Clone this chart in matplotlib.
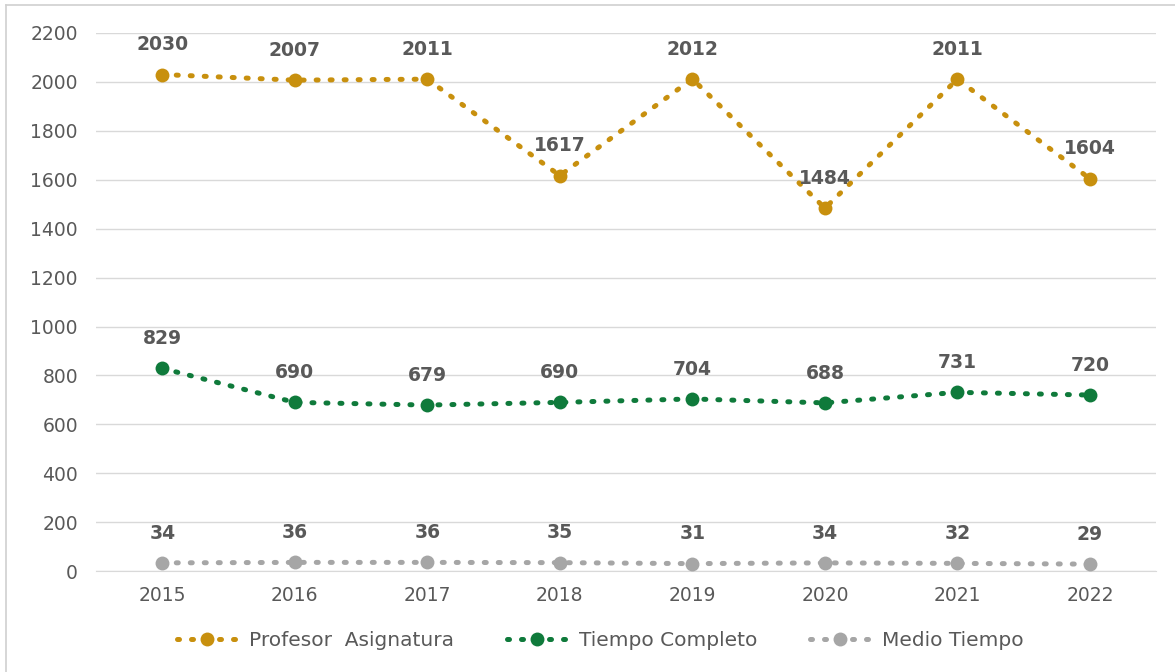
import matplotlib.pyplot as plt
from matplotlib.lines import Line2D

plt.rcParams['font.family'] = ['DejaVu Sans']

years = ["2015", "2016", "2017", "2018", "2019", "2020", "2021", "2022"]
profesor_asignatura = [2030, 2007, 2011, 1617, 2012, 1484, 2011, 1604]
tiempo_completo = [829, 690, 679, 690, 704, 688, 731, 720]
medio_tiempo = [34, 36, 36, 35, 31, 34, 32, 29]

series = [
    ("Profesor  Asignatura", profesor_asignatura, "#C8900E"),
    ("Tiempo Completo", tiempo_completo, "#0F7A3B"),
    ("Medio Tiempo", medio_tiempo, "#A6A6A6"),
]

text_color = "#595959"
dot_style = (0, (0.4, 2.4))

fig = plt.figure(figsize=(11.75, 6.72), dpi=100)
ax = fig.add_axes([0.0817, 0.150, 0.9023, 0.801])

x = list(range(len(years)))
for name, vals, color in series:
    ax.plot(x, vals, color=color, linestyle=dot_style, linewidth=3.6,
            dash_capstyle="round", marker="o", markersize=10,
            markeredgewidth=0, label=name, zorder=3, clip_on=False)
    for xi, v in zip(x, vals):
        ax.annotate(str(v), (xi, v), xytext=(0, 21.5), textcoords="offset points",
                    ha="center", va="center", fontsize=13.5, fontweight="bold",
                    color=text_color, zorder=4)

ax.set_xlim(-0.5, len(years) - 0.5)
ax.set_ylim(0, 2200)
ax.set_yticks(range(0, 2201, 200))
ax.set_xticks(x)
ax.set_xticklabels(years)
ax.grid(axis="y", color="#D9D9D9", linewidth=1)
ax.set_axisbelow(True)
for s in ax.spines.values():
    s.set_visible(False)
ax.spines["bottom"].set_visible(True)
ax.spines["bottom"].set_color("#D9D9D9")
ax.tick_params(length=0, labelsize=13.5, labelcolor=text_color)
ax.tick_params(axis="y", pad=13)
ax.tick_params(axis="x", pad=11)

handles = [Line2D([0], [0], color=c, linestyle=dot_style, linewidth=3.6,
                  dash_capstyle="round", marker="o", markersize=10,
                  markeredgewidth=0) for _, _, c in series]
fig.legend(handles, [s[0] for s in series], loc="center", ncol=3,
           bbox_to_anchor=(0.511, 0.047), frameon=False,
           prop={"size": 14.5, "weight": "medium"},
           labelcolor=text_color, handlelength=3.0, columnspacing=2.6,
           handletextpad=0.6)

# thin frame along the top and left edges
fig.add_artist(Line2D([0.005, 0.005], [0.0, 0.993], transform=fig.transFigure,
                      color="#D0D0D0", linewidth=1.2))
fig.add_artist(Line2D([0.005, 1.0], [0.993, 0.993], transform=fig.transFigure,
                      color="#D0D0D0", linewidth=1.2))

fig.savefig("out.png", dpi=100, facecolor="white")
